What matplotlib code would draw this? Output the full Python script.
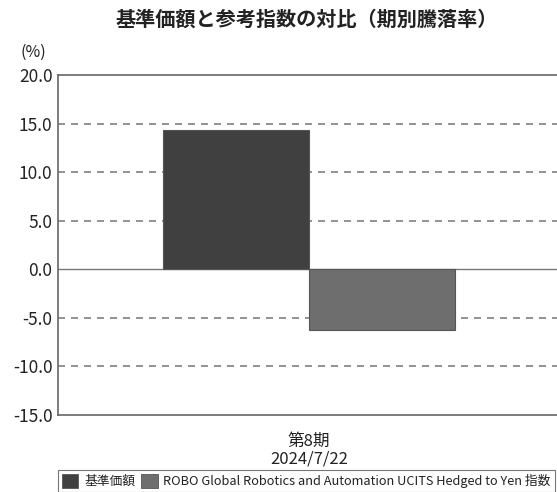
import matplotlib
matplotlib.use("Agg")
import matplotlib.pyplot as plt
from matplotlib.patches import Patch

plt.rcParams['font.family'] = ['Noto Sans CJK JP', 'DejaVu Sans']

series = ["基準価額", "ROBO Global Robotics and Automation UCITS Hedged to Yen 指数"]
values = [14.3, -6.2]
colors = ["#404040", "#6e6e6e"]
category = "第8期\n2024/7/22"
yticks = [20.0, 15.0, 10.0, 5.0, 0.0, -5.0, -10.0, -15.0]

fig = plt.figure(figsize=(5.57, 4.92), dpi=100)
W, H = 557, 492
ax = fig.add_axes([58 / W, 1 - 415 / H, (560 - 58) / W, (415 - 75) / H])

xs = [-0.5, 0.5]
for x, v, c in zip(xs, values, colors):
    ax.bar(x, v, width=1.0, color=c, edgecolor="#555555", linewidth=0.8, zorder=3)

ax.set_ylim(-15, 20)
ax.set_xlim(-1.72, 1.72)
ax.set_yticks(yticks)
ax.set_yticklabels([f"{t:.1f}" for t in yticks], fontsize=12.5, color="#222222")
for t in yticks[1:-1]:
    if t == 0:
        ax.axhline(t, color="#777777", linewidth=1.0, zorder=2)
    else:
        ax.axhline(t, color="#808080", linewidth=1.2, linestyle=(0, (4.2, 3.6)), zorder=1)
ax.tick_params(axis='y', length=0, pad=4)
ax.set_xticks([0])
ax.set_xticklabels([category], fontsize=12, color="#222222", linespacing=1.05)
ax.tick_params(axis='x', length=0, pad=13)
for s in ["left", "top", "bottom"]:
    ax.spines[s].set_color("#666666")
    ax.spines[s].set_linewidth(1.2)
ax.spines["right"].set_visible(False)

fig.text(20 / W, 1 - 52 / H, "(%)", fontsize=11.5, color="#222222", va="center", ha="left")
fig.text(307 / W, 1 - 19 / H, "基準価額と参考指数の対比（期別騰落率）", fontsize=14.5,
         fontweight="bold", ha="center", va="center", color="#222222")

handles = [Patch(facecolor=c, edgecolor="#555555", linewidth=0.6) for c in colors]
leg = fig.legend(handles, series, loc="upper left", bbox_to_anchor=(58 / W, 1 - 470 / H),
                 ncol=2, fontsize=9.2, frameon=True, fancybox=False, edgecolor="#555555",
                 handlelength=1.3, handleheight=1.3, handletextpad=0.45, columnspacing=0.45,
                 borderpad=0.3, borderaxespad=0)
leg.get_frame().set_linewidth(0.8)
for t in leg.get_texts():
    t.set_color("#222222")

fig.savefig("out.png", dpi=100)
